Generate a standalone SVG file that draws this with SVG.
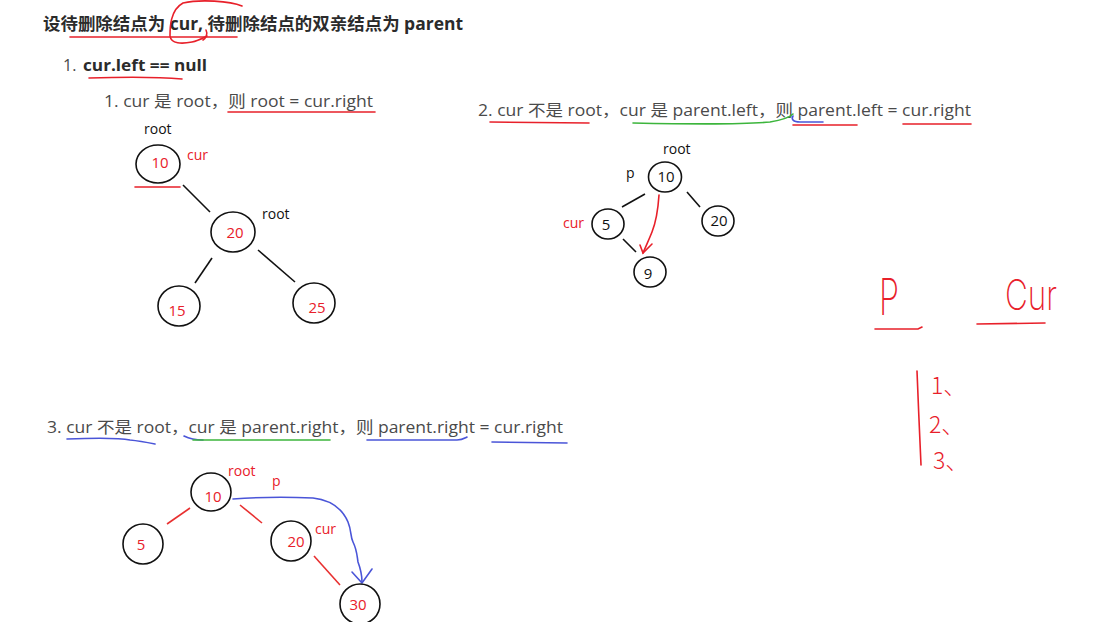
<svg xmlns="http://www.w3.org/2000/svg" width="1110" height="622" viewBox="0 0 1110 622">
<style>
.t{font-family:"Open Sans","Noto Sans","Noto Sans CJK SC",sans-serif;font-size:16px;fill:#4a4a4a}
.tb{font-family:"Open Sans","Noto Sans","Noto Sans CJK SC",sans-serif;font-weight:bold;fill:#2b2b2b}
.lbl{font-family:"Open Sans","Noto Sans",sans-serif;font-size:14px}
.num{font-family:"Open Sans","Noto Sans",sans-serif;font-size:15px;text-anchor:middle}
.red{fill:#e8202a}
.blk{fill:#111}
.nd{fill:#fff;stroke:#111;stroke-width:1.6}
.ln{stroke:#111;stroke-width:1.6;fill:none}
.lr{stroke:#e83030;stroke-width:1.6;fill:none}
.ur{stroke:#e8202a;stroke-width:1.6;fill:none;stroke-linecap:round}
.ug{stroke:#3cb53c;stroke-width:1.6;fill:none;stroke-linecap:round}
.ub{stroke:#4a55d8;stroke-width:1.6;fill:none;stroke-linecap:round}
.hw{font-family:"Inter","DejaVu Sans",sans-serif;font-weight:200;fill:#e8202a}
.hn{font-family:"Noto Sans CJK SC",sans-serif;font-weight:300;fill:#e8202a;font-size:23px}
</style>
<rect width="1110" height="622" fill="#fff"/>

<!-- headings -->
<g id="title">
<text class="tb" x="43" y="30" font-size="17" textLength="420" lengthAdjust="spacingAndGlyphs">设待删除结点为 cur, 待删除结点的双亲结点为 parent</text>
<path class="ur" d="M70 37 L237 37"/>
<path class="ur" d="M242 6 C230 1 200 -1 183 3 C170 10 170 28 170 36 C171 44 182 44 192 42 C198 41 203 38 207 36"/>
<path class="ur" d="M206 30 C208 34 206 38 203 40"/>
</g>
<g id="case1-head">
<text class="t" x="63" y="71">1.</text>
<text class="tb" x="83" y="71" font-size="16" textLength="124" lengthAdjust="spacingAndGlyphs">cur.left == null</text>
<path class="ur" d="M89 78 C120 77 160 77 182 79"/>
</g>
<g id="case1-text">
<text class="t" x="104" y="107" textLength="269" lengthAdjust="spacingAndGlyphs">1. cur 是 root，则 root = cur.right</text>
<path class="ur" d="M228 112 L375 112"/>
</g>
<g id="case2-text">
<text class="t" x="478" y="116" textLength="493" lengthAdjust="spacingAndGlyphs">2. cur 不是 root，cur 是 parent.left，则 parent.left = cur.right</text>
<path class="ur" d="M490 122 L589 123"/>
<path class="ug" d="M633 123 C680 124 740 125 770 122 C782 120 790 117 793 114"/>
<path class="ub" d="M793 116 C791 119 793 122 800 122 L823 122"/>
<path class="ur" d="M793 125 L857 125"/>
<path class="ur" d="M903 124 L971 124"/>
</g>
<g id="case3-text">
<text class="t" x="47" y="433" textLength="516" lengthAdjust="spacingAndGlyphs">3. cur 不是 root，cur 是 parent.right，则 parent.right = cur.right</text>
<path class="ub" d="M67 439 C95 438 120 438 130 440 C140 441 150 443 155 444"/>
<path class="ub" d="M184 436 C188 438 193 440 203 440"/>
<path class="ug" d="M193 440 L330 440"/>
<path class="ub" d="M367 440 L457 440 C462 440 465 438 467 437"/>
<path class="ub" d="M492 442 L567 443"/>
</g>

<!-- connectors -->
<g id="connectors">
<path class="ln" d="M183 185 L210 212"/>
<path class="ln" d="M212 258 L195 283"/>
<path class="ln" d="M258 250 L295 282"/>
<path class="ur" d="M135 187 L180 187"/>

<path class="ln" d="M645 194 L622 207"/>
<path class="ln" d="M687 192 L700 207"/>
<path class="ln" d="M623 239 L636 252"/>
<path class="ur" d="M659 195 C658 210 656 222 652 232 C648 242 645 248 643 253"/>
<path class="ur" d="M640 245 L643 253 L652 244"/>

<path class="lr" d="M190 508 L167 524"/>
<path class="lr" d="M240 505 L262 523"/>
<path class="lr" d="M314 556 L340 585"/>
<path class="ub" d="M233 499 C260 497 290 497 313 498 C330 500 342 508 348 522 C352 532 350 536 353 542 C357 550 357 556 358 562 C361 570 362 576 362 582"/>
<path class="ub" d="M352 572 L362 583 L372 569"/>
</g>

<!-- case 1 tree -->
<g id="c1-n10">
<ellipse class="nd" cx="158" cy="164" rx="22" ry="19"/>
<text class="num red" x="160" y="168">10</text>
<text class="lbl blk" x="144" y="134">root</text>
<text class="lbl red" x="187" y="160">cur</text>
</g>
<g id="c1-n20">
<ellipse class="nd" cx="233" cy="232" rx="22" ry="20"/>
<text class="num red" x="235" y="238">20</text>
<text class="lbl blk" x="262" y="219">root</text>
</g>
<g id="c1-n15">
<ellipse class="nd" cx="179" cy="306" rx="21" ry="20"/>
<text class="num red" x="177" y="316">15</text>
</g>
<g id="c1-n25">
<ellipse class="nd" cx="314" cy="303" rx="21" ry="20"/>
<text class="num red" x="317" y="313">25</text>
</g>

<!-- case 2 tree -->
<g id="c2-n10">
<ellipse class="nd" cx="665" cy="177" rx="16.5" ry="15"/>
<text class="num blk" x="666" y="182">10</text>
<text class="lbl blk" x="663" y="154">root</text>
<text class="lbl blk" x="626" y="178">p</text>
</g>
<g id="c2-n5">
<ellipse class="nd" cx="608" cy="224" rx="16" ry="15"/>
<text class="num blk" x="606" y="230">5</text>
<text class="lbl red" x="563" y="228">cur</text>
</g>
<g id="c2-n20">
<ellipse class="nd" cx="718" cy="221" rx="16" ry="15"/>
<text class="num blk" x="719" y="226">20</text>
</g>
<g id="c2-n9">
<ellipse class="nd" cx="650" cy="272" rx="16" ry="15"/>
<text class="num blk" x="648" y="279">9</text>
</g>

<!-- case 3 tree -->
<g id="c3-n10">
<ellipse class="nd" cx="211" cy="492" rx="20" ry="19"/>
<text class="num red" x="213" y="502">10</text>
<text class="lbl red" x="228" y="476">root</text>
<text class="lbl red" x="272" y="486">p</text>
</g>
<g id="c3-n5">
<ellipse class="nd" cx="143" cy="544" rx="20" ry="20"/>
<text class="num red" x="141" y="550">5</text>
</g>
<g id="c3-n20">
<ellipse class="nd" cx="291" cy="541" rx="20" ry="20"/>
<text class="num red" x="296" y="547">20</text>
<text class="lbl red" x="315" y="534">cur</text>
</g>
<g id="c3-n30">
<ellipse class="nd" cx="360" cy="604" rx="20" ry="20"/>
<text class="num red" x="358" y="610">30</text>
</g>

<!-- handwritten notes -->
<g id="notes">
<text class="hw" x="879" y="315" font-size="50" textLength="20" lengthAdjust="spacingAndGlyphs">P</text>
<path class="ur" d="M875 329 L918 329 L922 327"/>
<text class="hw" x="1005" y="310" font-size="42" textLength="52" lengthAdjust="spacingAndGlyphs">Cur</text>
<path class="ur" d="M977 324 L1045 323"/>
<path class="ur" d="M917 371 C918 400 920 440 921 465"/>
<text class="hn" x="931" y="394">1、</text>
<text class="hn" x="929" y="433">2、</text>
<text class="hn" x="933" y="469">3、</text>
</g>
</svg>
